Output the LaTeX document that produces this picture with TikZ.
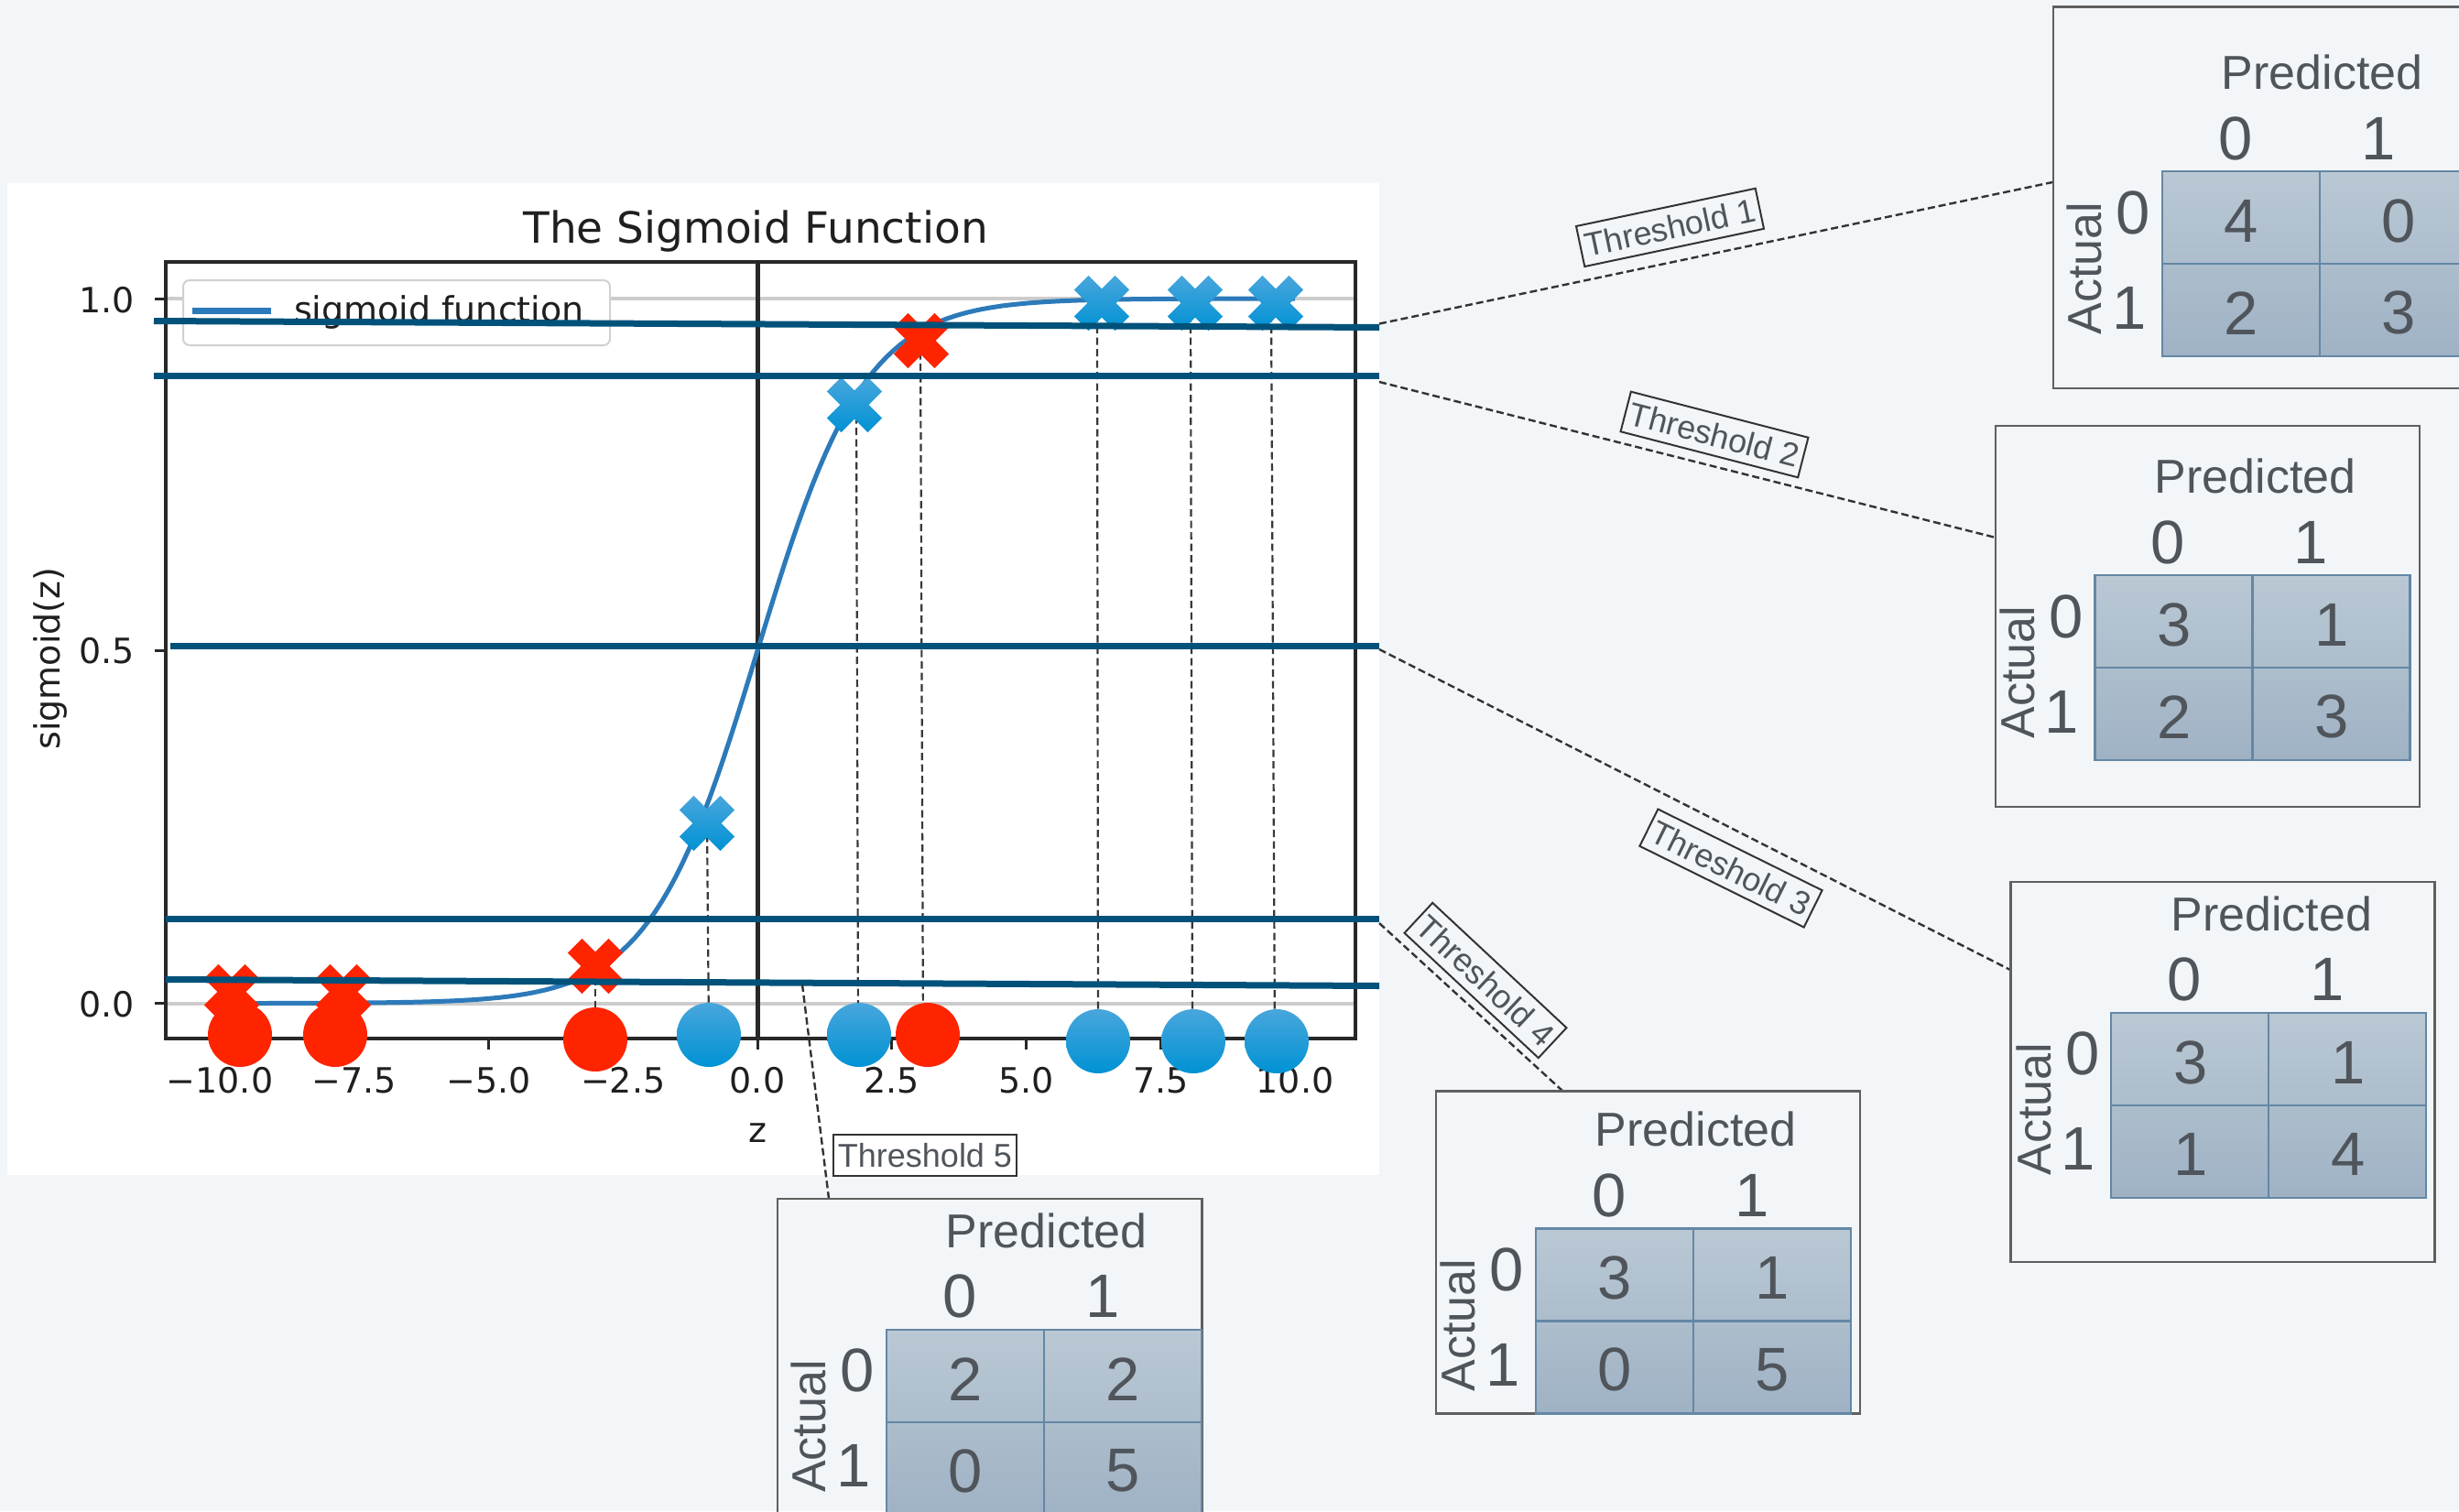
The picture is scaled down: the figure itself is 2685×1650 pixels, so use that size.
\documentclass[tikz,border=0pt]{standalone}
\usepackage{fontspec}
\setmainfont{Liberation Sans}
\newfontfamily\plotfont{DejaVu Sans}

\definecolor{pagebg}{RGB}{243,246,248}
\definecolor{thr}{RGB}{0,82,122}
\definecolor{curve}{RGB}{44,122,186}
\definecolor{mred}{RGB}{255,36,0}
\definecolor{mblueT}{RGB}{72,166,220}
\definecolor{mblueB}{RGB}{0,146,212}
\definecolor{txt}{RGB}{80,85,92}
\definecolor{cellT}{RGB}{186,200,212}
\definecolor{cellB}{RGB}{159,178,196}
\definecolor{cellline}{RGB}{100,135,165}
\definecolor{framec}{RGB}{95,95,95}
\definecolor{gridc}{RGB}{204,204,204}
\definecolor{axisc}{RGB}{40,40,40}

\tikzset{
  every node/.style={inner sep=0pt, outer sep=0pt},
  thrline/.style={draw=thr, line width=7pt},
  droplink/.style={draw=black!78, line width=2.2pt, dash pattern=on 8pt off 4.5pt},
  thrlink/.style={draw=black!80, line width=2.4pt, dash pattern=on 8pt off 4pt},
  thrlabel/.style={draw=black!80, line width=2pt, text=txt, font=\fontsize{36}{40}\selectfont,
    minimum width=200pt, minimum height=45pt},
  plottext/.style={text=black!88, font=\plotfont\fontsize{38}{44}\selectfont},
  mtext/.style={text=txt, font=\fontsize{52}{60}\selectfont},
  mdigit/.style={text=txt, font=\fontsize{67}{76}\selectfont},
  cellgrid/.style={draw=cellline, line width=2.2pt},
  framebox/.style={draw=framec, line width=2.4pt},
}

% filled "X" marker centred at #1, painted with the options #2
\newcommand\xmarker[2]{%
  \path[#2, shift={(#1)}] (0,15.56) -- (14.5,30.05) -- (30.05,14.5) -- (15.56,0)
    -- (30.05,-14.5) -- (14.5,-30.05) -- (0,-15.56) -- (-14.5,-30.05)
    -- (-30.05,-14.5) -- (-15.56,0) -- (-30.05,14.5) -- (-14.5,30.05) -- cycle;}

% 2x2 confusion matrix: name, top-left corner of the cells, four counts
\newcommand\confmat[7]{%
  \begin{scope}[shift={(#2,#3)}]
    \shade[top color=cellT, bottom color=cellB] (0,0) rectangle (344,202);
    \draw[cellgrid] (0,0) rectangle (344,202) (172,0) -- (172,202) (0,101) -- (344,101);
    \node[mtext, anchor=base] (#1p) at (175,-89.5) {Predicted};
    \node[mdigit, anchor=base] (#1c0) at (80,-13.3) {0};
    \node[mdigit, anchor=base] (#1c1) at (236,-13.3) {1};
    \node[mdigit] (#1r0) at (-31.5,44.8) {0};
    \node[mdigit] (#1r1) at (-36,149) {1};
    \node[mtext, rotate=90] (#1a) at (-84.5,105.7) {Actual};
    \node[mdigit] (#1n00) at (86.5,54.5) {#4};
    \node[mdigit] (#1n01) at (258.5,54.5) {#5};
    \node[mdigit] (#1n10) at (86.5,154.5) {#6};
    \node[mdigit] (#1n11) at (258.5,154.5) {#7};
  \end{scope}}

\begin{document}
\begin{tikzpicture}[x=1pt, y=-1pt]
\useasboundingbox (0,0) rectangle (2685,1650);
\fill[pagebg] (0,0) rectangle (2685,1650);
\clip (0,0) rectangle (2685,1650);

% ---------- plot panel ----------
\fill[white] (8,200) rectangle (1506,1283);
\draw[gridc, line width=4pt] (181,326) -- (1480,326);
\draw[gridc, line width=4pt] (181,1095.5) -- (1480,1095.5);
\draw[axisc, line width=5pt] (827,286) -- (827,1134);
\draw[curve, line width=5pt]
  plot[domain=-10:0, samples=80] ({827+58.7*\x},{1095.5-769.5*exp(\x)/(1+exp(\x))})
  -- plot[domain=0:10, samples=80] ({827+58.7*\x},{1095.5-769.5/(1+exp(-\x))});
\draw[axisc, line width=3.5pt] (181,286) rectangle (1480,1134);
\foreach \z in {-10,-7.5,...,10}
  \draw[axisc, line width=3pt] ({827+58.7*\z},1134) -- ++(0,12);
\foreach \yy in {326,710.75,1095.5}
  \draw[axisc, line width=3pt] (169,\yy) -- (181,\yy);

\foreach \z/\lab [count=\i] in {-10/−10.0,-7.5/−7.5,-5/−5.0,-2.5/−2.5,0/0.0,2.5/2.5,5/5.0,7.5/7.5,10/10.0}
  \node[plottext, anchor=base] (xt\i) at ({827+58.7*\z},1193) {\lab};
\node[plottext, anchor=east] (yt1) at (147,328) {1.0};
\node[plottext, anchor=east] (yt2) at (147,711) {0.5};
\node[plottext, anchor=east] (yt3) at (147,1096.5) {0.0};
\node[plottext, anchor=base] (xlab) at (827,1247) {z};
\node[plottext, rotate=90] (ylab) at (55,719) {sigmoid(z)};
\node[plottext, anchor=base, font=\plotfont\fontsize{47}{54}\selectfont] (title) at (825,265) {The Sigmoid Function};

% legend
\draw[draw=black!18, fill=white, line width=2pt, rounded corners=7pt] (200,306) rectangle (666,377);
\draw[curve, line width=7pt] (210,339) -- (296,339);
\node[plottext, anchor=base west] (legtext) at (321,351) {sigmoid function};

% ---------- drop lines from the curve points to the classes ----------
\draw[droplink] (650,1055) -- (650,1135);
\draw[droplink] (772,899) -- (774,1130);
\draw[droplink] (935,442) -- (937,1130);
\draw[droplink] (1005,372) -- (1008,1130);
\draw[droplink] (1198,331) -- (1199,1137);
\draw[droplink] (1300,331) -- (1302,1137);
\draw[droplink] (1388,331) -- (1392,1137);

% ---------- markers ----------
\xmarker{253,1083}{fill=mred}
\xmarker{375,1083}{fill=mred}
\xmarker{650,1055}{fill=mred}
\xmarker{1006,372}{fill=mred}
\xmarker{772,899}{top color=mblueT, bottom color=mblueB}
\xmarker{933,442}{top color=mblueT, bottom color=mblueB}
\xmarker{1203,331}{top color=mblueT, bottom color=mblueB}
\xmarker{1305,331}{top color=mblueT, bottom color=mblueB}
\xmarker{1393,331}{top color=mblueT, bottom color=mblueB}

\fill[mred] (262,1130) circle[radius=35pt];
\fill[mred] (366,1130) circle[radius=35pt];
\fill[mred] (650,1135) circle[radius=35pt];
\fill[mred] (1013,1130) circle[radius=35pt];
\foreach \cx/\cy in {774/1130,938/1130,1199/1137,1303/1137,1394/1137}
  \shade[top color=mblueT, bottom color=mblueB] (\cx,\cy) circle[radius=35pt];

% ---------- threshold lines ----------
\coordinate (t1a) at (168,350.5);  \coordinate (t1b) at (1506,357.5);
\coordinate (t2a) at (168,410);    \coordinate (t2b) at (1506,410);
\coordinate (t3a) at (186,705);    \coordinate (t3b) at (1506,705);
\coordinate (t4a) at (181,1003);   \coordinate (t4b) at (1506,1003);
\coordinate (t5a) at (181,1069.5); \coordinate (t5b) at (1506,1076.5);
\foreach \k in {1,...,5} \draw[thrline] (t\k a) -- (t\k b);

% ---------- connectors to the matrices ----------
\coordinate (c1s) at (1506,353.5); \coordinate (c1e) at (2241,199);
\coordinate (c2s) at (1506,417);   \coordinate (c2e) at (2179,587);
\coordinate (c3s) at (1506,709);   \coordinate (c3e) at (2195,1059);
\coordinate (c4s) at (1506,1008);  \coordinate (c4e) at (1706,1191);
\coordinate (c5s) at (876,1075);   \coordinate (c5e) at (905,1308.7);
\foreach \k in {1,...,5} \draw[thrlink] (c\k s) -- (c\k e);

\node[thrlabel, rotate=11.9]  (lab1) at (1823.5,248.4) {Threshold 1};
\node[thrlabel, rotate=-14.5] (lab2) at (1872,474.5) {Threshold 2};
\node[thrlabel, rotate=-26.3] (lab3) at (1890,948) {Threshold 3};
\node[thrlabel, rotate=-43]   (lab4) at (1622,1070.5) {Threshold 4};
\node[thrlabel]               (lab5) at (1010,1261.5) {Threshold 5};

% ---------- confusion matrices ----------
\draw[framebox] (2241.7,7.3) rectangle (2730,424);
\draw[framebox] (2179,465) rectangle (2642,881);
\draw[framebox] (2195.4,962.7) rectangle (2658.5,1377.7);
\draw[framebox] (1567.7,1191.3) rectangle (2030.8,1543.3);
\draw[framebox] (849,1308.7) rectangle (1312.3,1700);

\confmat{mA}{2360.7}{187.3}{4}{0}{2}{3}
\confmat{mB}{2287.5}{628.3}{3}{1}{2}{3}
\confmat{mC}{2305.3}{1105.7}{3}{1}{1}{4}
\confmat{mD}{1676.8}{1341.4}{3}{1}{0}{5}
\confmat{mE}{967.7}{1451.7}{2}{2}{0}{5}
\end{tikzpicture}
\end{document}
